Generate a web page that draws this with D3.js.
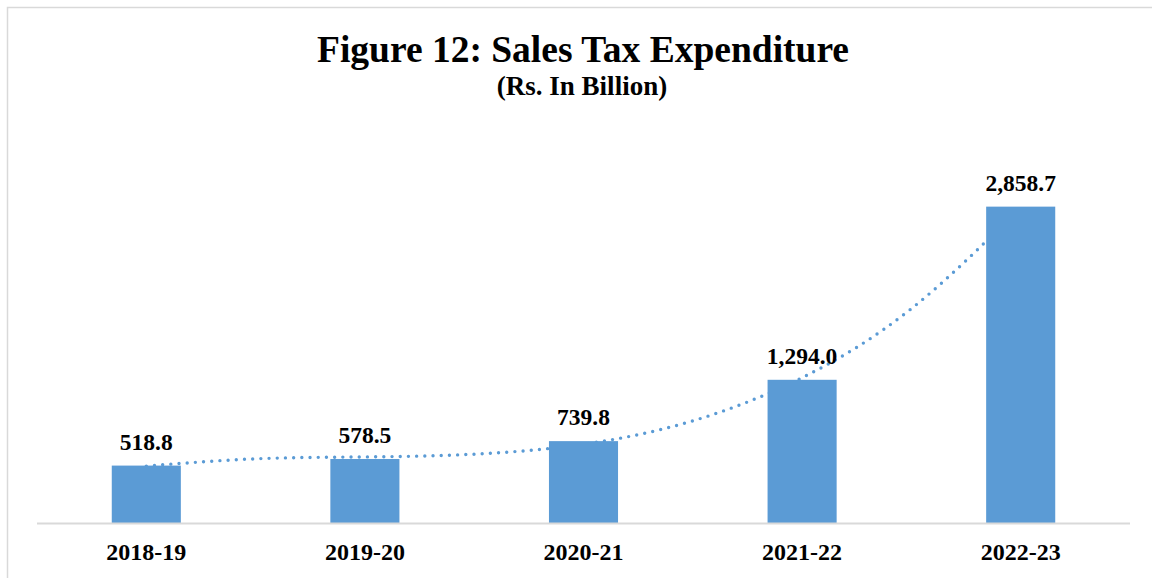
<!DOCTYPE html>
<html>
<head>
<meta charset="utf-8">
<script src="https://cdn.jsdelivr.net/npm/d3@7"></script>
<style>
  html, body { margin: 0; padding: 0; background: #ffffff; }
  svg { display: block; }
  text { font-family: "Liberation Serif", "Times New Roman", serif; font-weight: bold; fill: #000; }
</style>
</head>
<body>
<svg id="chart" width="1152" height="578"></svg>
<script>
// Fiscal years and sales tax expenditure (Rs. billion)
const years = ["2018-19", "2019-20", "2020-21", "2021-22", "2022-23"];
const expenditure = [518.8, 578.5, 739.8, 1294.0, 2858.7];

// Dotted trend curve, sampled at every half step along the category index
const trendIndex = [0, 0.5, 1, 1.5, 2, 2.5, 3, 3.5, 4];
const trendValues = [514, 580, 597, 622, 712, 923, 1313, 1937, 2854];

const title = "Figure 12: Sales Tax Expenditure";
const subtitle = "(Rs. In Billion)";

const width = 1152, height = 578;
const plot = { left: 37, right: 1130, top: 191, bottom: 523 };
const barColor = "#5B9BD5";

const svg = d3.select("#chart");

// Chart frame
svg.append("rect")
  .attr("x", 7.5).attr("y", 7.5)
  .attr("width", 1300).attr("height", 700)
  .attr("fill", "none")
  .attr("stroke", "#d9d9d9")
  .attr("stroke-width", 1.5);

const x = d3.scaleBand()
  .domain(years)
  .range([plot.left, plot.right])
  .paddingInner(0.684)
  .paddingOuter(0.342);

const y = d3.scaleLinear()
  .domain([0, 3000])
  .range([plot.bottom, plot.top]);

// Position along the category axis for a (possibly fractional) index
const xIdx = d3.scaleLinear()
  .domain([0, years.length - 1])
  .range([x(years[0]) + x.bandwidth() / 2, x(years[years.length - 1]) + x.bandwidth() / 2]);

// Titles
svg.append("text")
  .attr("x", 583).attr("y", 62)
  .attr("text-anchor", "middle")
  .style("font-size", "37.5px")
  .text(title);

svg.append("text")
  .attr("x", 582).attr("y", 95)
  .attr("text-anchor", "middle")
  .style("font-size", "27px")
  .text(subtitle);

// Trend curve (behind the bars)
const trendPts = trendIndex.map((t, i) => [t, trendValues[i]]);
svg.append("path")
  .datum(trendPts)
  .attr("fill", "none")
  .attr("stroke", barColor)
  .attr("stroke-width", 3.4)
  .attr("stroke-linecap", "round")
  .attr("stroke-dasharray", "0 8.2")
  .attr("d", d3.line()
    .x(d => xIdx(d[0]))
    .y(d => y(d[1]))
    .curve(d3.curveNatural));

// Bars
svg.append("g")
  .selectAll("rect")
  .data(expenditure)
  .join("rect")
  .attr("x", (d, i) => x(years[i]))
  .attr("y", d => y(d))
  .attr("width", x.bandwidth())
  .attr("height", d => y(0) - y(d))
  .attr("fill", barColor);

// Category axis
const xAxis = svg.append("g")
  .attr("transform", `translate(0,${plot.bottom})`)
  .call(d3.axisBottom(x).tickSize(0).tickPadding(0));
xAxis.select(".domain")
  .attr("stroke", "#d9d9d9")
  .attr("stroke-width", 2)
  .attr("d", `M${plot.left},0.5H${plot.right}`);
xAxis.selectAll(".tick text")
  .attr("y", 37)
  .attr("dy", null)
  .style("font-family", "'Liberation Serif', 'Times New Roman', serif")
  .style("font-weight", "bold")
  .style("font-size", "24px")
  .attr("fill", "#000");

// Value labels
const fmt = d3.format(",.1f");
svg.append("g")
  .selectAll("text")
  .data(expenditure)
  .join("text")
  .attr("x", (d, i) => x(years[i]) + x.bandwidth() / 2)
  .attr("y", d => y(d) - 16)
  .attr("text-anchor", "middle")
  .style("font-size", "23.5px")
  .text(d => fmt(d));
</script>
</body>
</html>
